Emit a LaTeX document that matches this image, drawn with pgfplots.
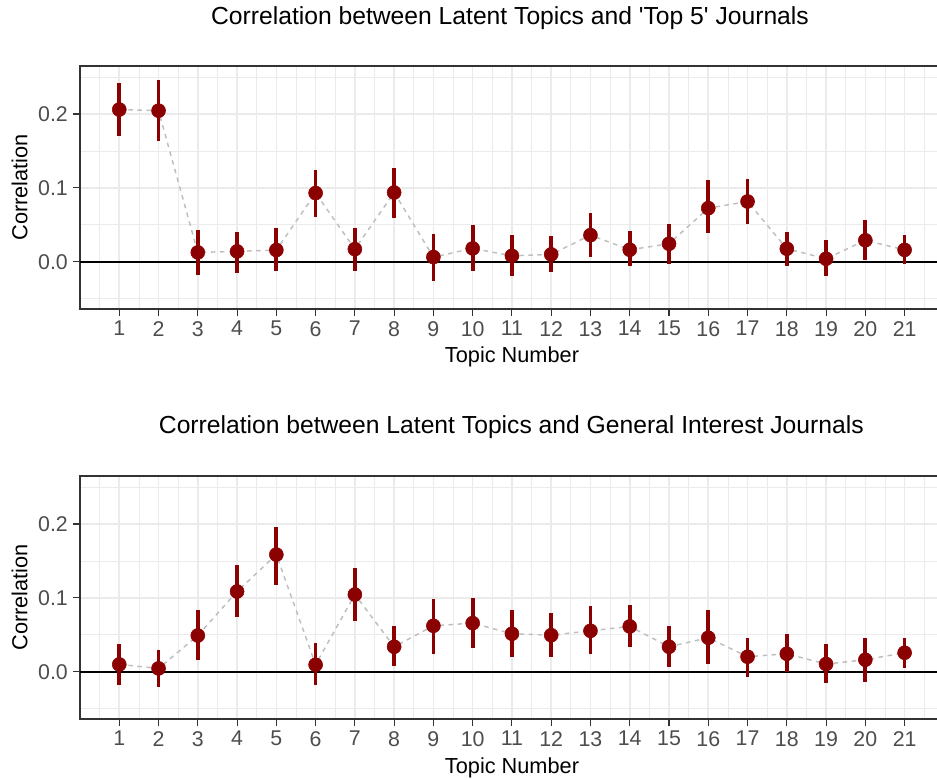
\documentclass[border=0pt]{standalone}
\usepackage{fontspec}
\setmainfont{Liberation Sans}
\usepackage{pgfplots}
\usepackage{pgfplotstable}
\pgfplotsset{compat=1.18}

\definecolor{ptred}{HTML}{8B0000}
\definecolor{gridc}{HTML}{EBEBEB}
\definecolor{framec}{HTML}{333333}
\definecolor{ticklab}{HTML}{4D4D4D}
\definecolor{dashc}{HTML}{BEBEBE}

% topic, estimate, lower, upper
\pgfplotstableread{
x  y      lo      hi
1  0.206  0.170   0.242
2  0.2045 0.164   0.246
3  0.0126 -0.018  0.043
4  0.014  -0.015  0.040
5  0.0158 -0.0126 0.046
6  0.093  0.060   0.124
7  0.017  -0.012  0.046
8  0.0937 0.059   0.127
9  0.0063 -0.026  0.038
10 0.018  -0.012  0.0495
11 0.008  -0.019  0.036
12 0.0099 -0.0144 0.0347
13 0.036  0.0068  0.0653
14 0.0162 -0.0054 0.0414
15 0.0243 -0.0027 0.0509
16 0.0725 0.0383  0.110
17 0.0815 0.0509  0.1117
18 0.0176 -0.0054 0.0405
19 0.004  -0.020  0.030
20 0.029  0.0023  0.057
21 0.016  -0.0027 0.0356
}\topfive

\pgfplotstableread{
x  y      lo      hi
1  0.0099 -0.0176 0.0374
2  0.0045 -0.0207 0.0288
3  0.049  0.0153  0.0833
4  0.1086 0.0739  0.145
5  0.1586 0.118   0.1955
6  0.0095 -0.0176 0.0387
7  0.1045 0.0685  0.1405
8  0.0338 0.0077  0.0613
9  0.0622 0.0239  0.0991
10 0.0658 0.0315  0.100
11 0.0514 0.0203  0.0829
12 0.0495 0.0194  0.0793
13 0.0554 0.0243  0.0892
14 0.0613 0.0329  0.090
15 0.0338 0.0059  0.0613
16 0.046  0.0099  0.0829
17 0.0203 -0.0068 0.045
18 0.0243 -0.0005 0.0514
19 0.0104 -0.0158 0.0369
20 0.0162 -0.0135 0.046
21 0.0257 0.0054  0.045
}\general

\pgfplotsset{
  corrpanel/.style={
    scale only axis, width=647.9pt, height=182.25pt,
    anchor=south west,
    xmin=0, xmax=22, ymin=-0.064, ymax=0.265,
    xtick={1,...,21}, minor xtick={0.5,1.5,...,21.5},
    ytick={0,0.1,0.2}, minor ytick={-0.05,0.05,0.15,0.25},
    grid=both,
    major grid style={line width=1.2pt, gridc},
    minor grid style={line width=0.6pt, gridc},
    axis line style={framec, line width=0.8pt},
    tick align=outside, major tick length=5.6pt, minor tick length=0pt,
    tick style={framec, line width=0.8pt},
    xtick pos=bottom, ytick pos=left,
    ticklabel style={font=\fontsize{16}{19}\selectfont, text=ticklab},
    /pgf/number format/assume math mode=true,
    yticklabel style={/pgf/number format/.cd, fixed, fixed zerofill, precision=1},
    clip=false,
  },
  dots/.style={only marks, mark=*, mark size=5.25pt, ptred,
    error bars/.cd, y dir=both, y explicit, error mark=none,
    error bar style={line width=2.8pt, ptred}},
  link/.style={no marks, dashc, line width=1.1pt, dash pattern=on 3.4pt off 3.4pt},
}

\begin{document}
\begin{tikzpicture}

\begin{axis}[corrpanel, at={(60pt,353.25pt)}]
  \addplot[black, line width=1.3pt, forget plot] coordinates {(0,0) (22,0)};
  \addplot[dots] table[x=x, y=y,
    y error plus expr=\thisrow{hi}-\thisrow{y},
    y error minus expr=\thisrow{y}-\thisrow{lo}] {\topfive};
  \addplot[link] table[x=x, y=y] {\topfive};
\end{axis}

\begin{axis}[corrpanel, at={(60pt,45.75pt)}]
  \addplot[black, line width=1.3pt, forget plot] coordinates {(0,0) (22,0)};
  \addplot[dots] table[x=x, y=y,
    y error plus expr=\thisrow{hi}-\thisrow{y},
    y error minus expr=\thisrow{y}-\thisrow{lo}] {\general};
  \addplot[link] table[x=x, y=y] {\general};
\end{axis}

\node[anchor=base, font=\fontsize{18.5}{22}\selectfont] at (382.5pt,566.25pt)
  {Correlation between Latent Topics and \textquotesingle Top 5\textquotesingle\ Journals};
\node[anchor=base, font=\fontsize{18.5}{22}\selectfont] at (383.5pt,259.5pt)
  {Correlation between Latent Topics and General Interest Journals};
\node[anchor=base, font=\fontsize{16.3}{19}\selectfont] at (384pt,312.75pt) {Topic Number};
\node[anchor=base, font=\fontsize{16.3}{19}\selectfont] at (384pt,4.5pt) {Topic Number};
\node[anchor=base, rotate=90, font=\fontsize{16.3}{19}\selectfont] at (20.5pt,444.4pt) {Correlation};
\node[anchor=base, rotate=90, font=\fontsize{16.3}{19}\selectfont] at (20.5pt,136.9pt) {Correlation};

\pgfresetboundingbox
\path[use as bounding box] (0,0) rectangle (702.75pt,585pt);
\end{tikzpicture}
\end{document}
